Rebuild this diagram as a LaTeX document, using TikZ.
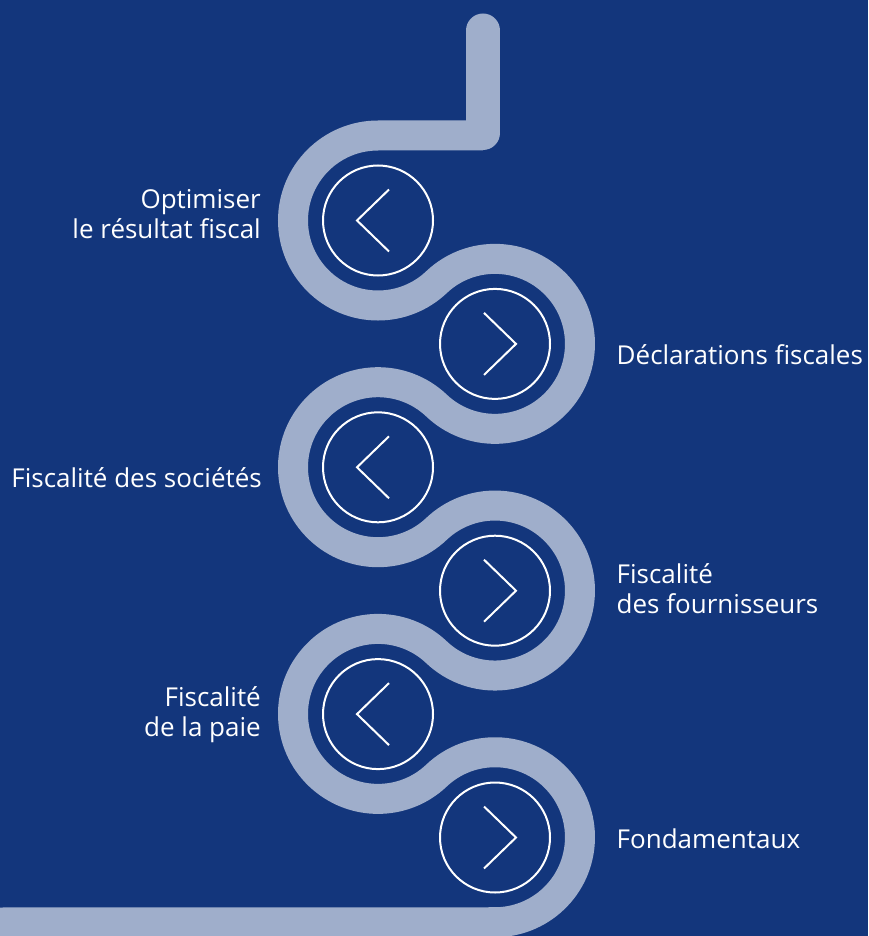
\documentclass[tikz,border=0pt]{standalone}
\usepackage{fontspec}
\setmainfont{Open Sans}
\definecolor{bgblue}{RGB}{19,54,124}
\definecolor{bandgrey}{RGB}{159,174,203}
\begin{document}
\begin{tikzpicture}[x=1pt,y=-1pt,
        band/.style={draw=bandgrey,line width=30pt},
        ring/.style={circle,draw=white,line width=2pt,minimum size=110pt,inner sep=0pt},
        chev/.style={draw=white,line width=2pt},
        steptext/.style={text=white,inner sep=0pt,font=\fontsize{26}{30}\selectfont}
    ]
    \fill[bgblue] (0,0) rectangle (868,936);
    \useasboundingbox (0,0) rectangle (868,936);

    \draw[band,line width=34pt,line cap=round] (483,30.5) -- (483,133);
    \draw[band]
        (483,135.5) -- (378,135.5)
        arc[start angle=270,end angle=46.52,radius=85]
        arc[start angle=226.52,end angle=493.48,radius=85]
        arc[start angle=313.48,end angle=46.52,radius=85]
        arc[start angle=226.52,end angle=493.48,radius=85]
        arc[start angle=313.48,end angle=46.52,radius=85]
        arc[start angle=226.52,end angle=450,radius=85]
        -- (-20,922.5)
    ;

    \foreach \k/\side in {0/-1,1/1,2/-1,3/1,4/-1,5/1} {
        \node[ring] (c\k) at ({436.5+58.5*\side},{220.5+123.4*\k}) {};
        \draw[chev] ([shift={(-11*\side,-31)}]c\k.center)
            -- ([shift={(21*\side,0)}]c\k.center)
            -- ([shift={(-11*\side,31)}]c\k.center);
    }

    \node[steptext,anchor=base east,align=right] (optim) at (261,238) {Optimiser\\le résultat fiscal};
    \node[steptext,anchor=base west] (decl) at (616.5,364) {Déclarations fiscales};
    \node[steptext,anchor=base east] (socs) at (262,487) {Fiscalité des sociétés};
    \node[steptext,anchor=base west,align=left] (fourn) at (616.5,613) {Fiscalité\\des fournisseurs};
    \node[steptext,anchor=base east,align=right] (paie) at (261,736.5) {Fiscalité\\de la paie};
    \node[steptext,anchor=base west] (fonda) at (616.5,848) {Fondamentaux};
\end{tikzpicture}
\end{document}
